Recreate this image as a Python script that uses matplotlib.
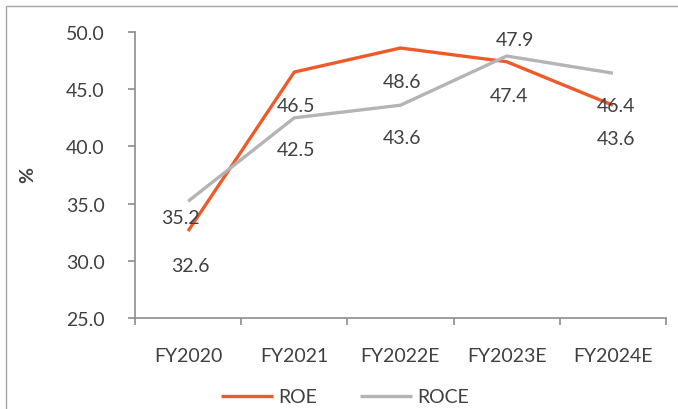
import matplotlib
matplotlib.use("Agg")
import matplotlib.pyplot as plt
from matplotlib.patches import Rectangle

years = ["FY2020", "FY2021", "FY2022E", "FY2023E", "FY2024E"]
roe = [32.6, 46.5, 48.6, 47.4, 43.6]
roce = [35.2, 42.5, 43.6, 47.9, 46.4]

# label offsets in pixels (dx, dy), as placed in the source chart
roe_off = [(2, -34), (2, -33), (2, -33), (2, -34), (3, -33)]
roce_off = [(-8, -16), (2, -32), (2, -32), (8, 17), (3, -32)]

plt.rcParams["font.family"] = ["Lato", "DejaVu Sans"]
txt = "#404040"
axc = "#8c8c8c"
fs = 14

fig = plt.figure(figsize=(6.78, 4.10), dpi=100)
ax = fig.add_axes([135 / 678, 1 - 319 / 410, 531 / 678, 286 / 410])

x = range(len(years))
ax.plot(x, roe, color="#ef5a2a", lw=2.4, label="ROE", solid_capstyle="butt")
ax.plot(x, roce, color="#b4b4b4", lw=2.4, label="ROCE", solid_capstyle="butt")

for i in x:
    ax.annotate(f"{roe[i]:.1f}", (i, roe[i]), xytext=roe_off[i], textcoords="offset pixels",
                ha="center", va="center", fontsize=fs, color=txt)
    ax.annotate(f"{roce[i]:.1f}", (i, roce[i]), xytext=roce_off[i], textcoords="offset pixels",
                ha="center", va="center", fontsize=fs, color=txt)

ax.set_xlim(-0.5, len(years) - 0.5)
ax.set_ylim(25, 50)
ax.set_yticks([25, 30, 35, 40, 45, 50])
ax.set_yticklabels([f"{v:.1f}" for v in [25, 30, 35, 40, 45, 50]])
ax.set_xticks(x)
ax.set_xticklabels(years)
ax.set_xticks([i - 0.5 for i in range(len(years) + 1)], minor=True)
ax.tick_params(axis="x", which="major", length=0, pad=21, labelsize=fs, labelcolor=txt)
ax.tick_params(axis="x", which="minor", length=5, width=1.2, color=axc, direction="out")
ax.tick_params(axis="y", length=5, width=1.2, color=axc, pad=17, labelsize=fs, labelcolor=txt)

for s in ["top", "right"]:
    ax.spines[s].set_visible(False)
for s in ["left", "bottom"]:
    ax.spines[s].set_color(axc)
    ax.spines[s].set_linewidth(1.2)

fig.text(28 / 678, 1 - 175 / 410, "%", rotation=90, ha="center", va="center",
         fontsize=fs, fontweight="bold", color=txt)

fig.legend(loc="center", bbox_to_anchor=(345 / 678, 1 - 398 / 410), ncol=2, frameon=False,
           fontsize=fs, handlelength=2.7, handletextpad=0.25, columnspacing=2.2,
           labelcolor=txt)

# outer frame of the source picture
fig.patches.append(Rectangle((6 / 678, -0.1), 1.2, 1.1 - 7 / 410, transform=fig.transFigure,
                             fill=False, edgecolor="#a6a6a6", lw=1))

fig.savefig("out.png", dpi=100)
